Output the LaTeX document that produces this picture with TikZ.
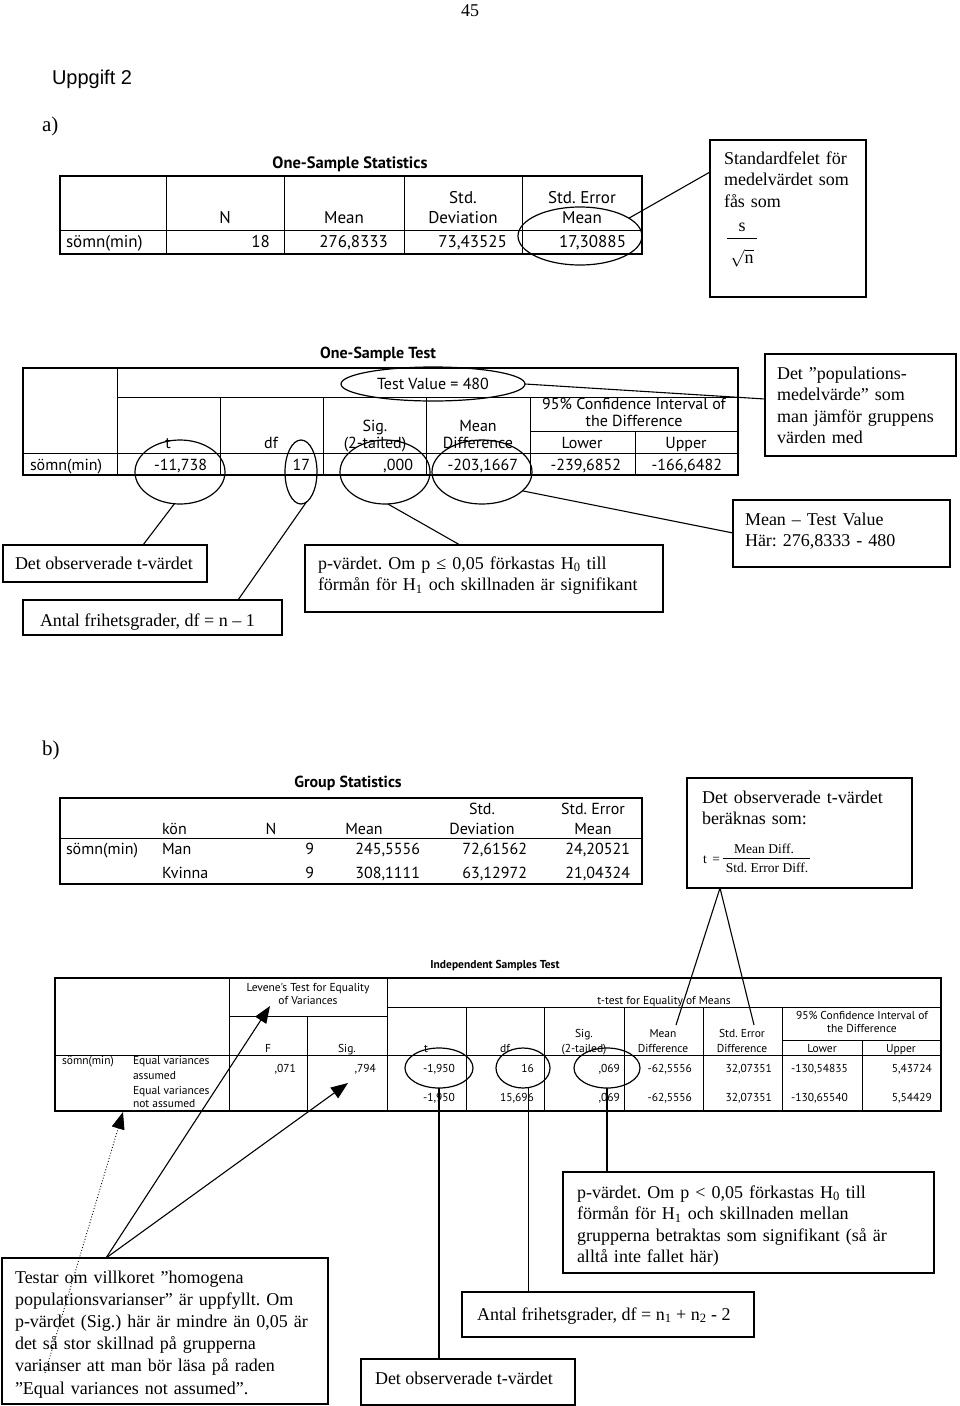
\documentclass[tikz,border=0pt]{standalone}
\usepackage{fontspec}
\setmainfont{Liberation Serif}
\newfontfamily\spssfont{PT Sans}
\newfontfamily\arialfont{Liberation Sans}
\usetikzlibrary{shapes.geometric,arrows.meta,calc}
\frenchspacing
\begin{document}
\begin{tikzpicture}[x=1pt,y=-1pt,
  every node/.style={inner sep=0pt, outer sep=0pt},
  sr/.style={font=\fontsize{18}{21.6}\selectfont, anchor=base west},
  srm/.style={font=\fontsize{18}{21.5}\selectfont, anchor=base west, text width=#1, align=left},
  tA/.style={font=\spssfont\fontsize{17}{20}\selectfont},
  tB/.style={font=\spssfont\fontsize{16}{18}\selectfont},
  tD/.style={font=\spssfont\fontsize{11.5}{13}\selectfont},
  ttl/.style={font=\spssfont\bfseries\fontsize{16.5}{18}\selectfont, anchor=base},
  tbo/.style={line width=1.5pt},
  tbi/.style={line width=1pt},
  cbox/.style={draw, rectangle, line width=1.3pt, anchor=north west},
  el/.style={draw, ellipse, line width=1.2pt, inner sep=0pt},
  conn/.style={line width=1.1pt},
  arr/.style={line width=1.1pt, -{Triangle[length=17pt,width=13pt]}},
  dotarr/.style={line width=0.9pt, dotted, -{Triangle[length=17pt,width=13pt]}},
  C/.style={anchor=base},
  R/.style={anchor=base east},
  L/.style={anchor=base west}]
\useasboundingbox (0,0) rectangle (960,1406);
\fill[white] (0,0) rectangle (960,1406);

% ---------- page head ----------
\node[anchor=base, font=\fontsize{18}{20}\selectfont] (pgnum) at (470,16) {45};
\node[anchor=base west, font=\arialfont\fontsize{20}{22}\selectfont] (uppg) at (52,84) {Uppgift 2};
\node[anchor=base west, font=\fontsize{21}{23}\selectfont] (pa) at (42,131) {a)};
\node[anchor=base west, font=\fontsize{21}{23}\selectfont] (pb) at (42,755) {b)};

% ---------- Table 1: One-Sample Statistics ----------
\node[ttl] (t1title) at (350,168) {One-Sample Statistics};
\draw[tbo] (60,176) rectangle (642,254);
\draw[tbi] (60,230) -- (642,230);
\foreach \xx in {166,284,404,522} \draw[tbi] (\xx,176) -- (\xx,254);
\node[tA,C] (t1h1) at (225,223) {N};
\node[tA,C] (t1h2) at (344,223) {Mean};
\node[tA,C] (t1h3a) at (463,203) {Std.};
\node[tA,C] (t1h3b) at (463,223) {Deviation};
\node[tA,C] (t1h4a) at (582,203) {Std. Error};
\node[tA,C] (t1h4b) at (582,223) {Mean};
\node[tA,L] (t1r) at (66,247) {sömn(min)};
\node[tA,R] (t1d1) at (270,247) {18};
\node[tA,R] (t1d2) at (388,247) {276,8333};
\node[tA,R] (t1d3) at (507,247) {73,43525};
\node[tA,R] (t1d4) at (626,247) {17,30885};
\node[el, minimum width=124pt, minimum height=58pt] (E1) at (580,236) {};

\node[cbox, minimum width=156pt, minimum height=157pt] (B1) at (710,140) {};
\node[srm=140pt] (B1txt) at (724,164) {Standardfelet för\\medelvärdet som\\fås som};
\node[anchor=base, font=\fontsize{18}{20}\selectfont] (B1s) at (742,231) {s};
\draw[line width=0.9pt] (727,238) -- (757,238);
\node[anchor=base, font=\fontsize{18}{20}\selectfont] (B1n) at (742,263) {$\sqrt{\mbox{n}}$};
\draw[conn] (E1.20) -- ($(B1.north west)+(0,32)$);

% ---------- Table 2: One-Sample Test ----------
\node[ttl, font=\spssfont\bfseries\fontsize{16}{18}\selectfont] (t2title) at (378,358) {One-Sample Test};
\draw[tbo] (23,368) rectangle (738,475);
\draw[tbi] (117,368) -- (117,475);
\draw[tbi] (117,397) -- (738,397);
\draw[tbi] (530,431) -- (738,431);
\draw[tbi] (23,453) -- (738,453);
\foreach \xx in {220,323,426,530} \draw[tbi] (\xx,397) -- (\xx,475);
\draw[tbi] (635,431) -- (635,475);
\node[tB,C] (t2tv) at (433,389) {Test Value = 480};
\node[tB,C] (t2ci1) at (634,409) {95\% Confidence Interval of};
\node[tB,C] (t2ci2) at (634,426) {the Difference};
\node[tB,C] (t2h1) at (168,448) {t};
\node[tB,C] (t2h2) at (271,448) {df};
\node[tB,C] (t2h3a) at (375,431) {Sig.};
\node[tB,C] (t2h3b) at (375,448) {(2-tailed)};
\node[tB,C] (t2h4a) at (478,431) {Mean};
\node[tB,C] (t2h4b) at (478,448) {Difference};
\node[tB,C] (t2h5) at (582,448) {Lower};
\node[tB,C] (t2h6) at (686,448) {Upper};
\node[tB,L] (t2r) at (30,470) {sömn(min)};
\node[tB,R] (t2d1) at (207,470) {-11,738};
\node[tB,R] (t2d2) at (310,470) {17};
\node[tB,R] (t2d3) at (413,470) {,000};
\node[tB,R] (t2d4) at (518,470) {-203,1667};
\node[tB,R] (t2d5) at (621,470) {-239,6852};
\node[tB,R] (t2d6) at (722,470) {-166,6482};
\node[el, minimum width=184pt, minimum height=34pt] (Etv) at (433,384) {};
\node[el, minimum width=90pt, minimum height=64pt] (Et) at (180,472) {};
\node[el, minimum width=32pt, minimum height=64pt] (Edf) at (301,472) {};
\node[el, minimum width=90pt, minimum height=64pt] (Esig) at (385,472) {};
\node[el, minimum width=100pt, minimum height=64pt] (Emd) at (482,472) {};

\node[cbox, minimum width=191pt, minimum height=102pt] (Bpop) at (765,354) {};
\node[srm=185pt] (Bpoptxt) at (777,379) {Det ”populations-\\medelvärde" som\\man jämför gruppens\\värden med};
\node[cbox, minimum width=217pt, minimum height=67pt] (Bmean) at (733,500) {};
\node[srm=200pt] (Bmeantxt) at (745,525) {Mean – Test Value\\Här: 276,8333 - 480};
\node[cbox, minimum width=204pt, minimum height=37pt] (Btv) at (3,545) {};
\node[sr] (Btvtxt) at (15,569) {Det observerade t-värdet};
\node[cbox, minimum width=259pt, minimum height=35pt] (Bdf) at (23,600) {};
\node[sr] (Bdftxt) at (40,626) {Antal frihetsgrader, df = n – 1};
\node[cbox, minimum width=358pt, minimum height=67pt] (Bp) at (305,545) {};
\node[srm=350pt] (Bptxt) at (318,569) {p-värdet. Om p ≤ 0,05 förkastas H\textsubscript{0} till\\förmån för H\textsubscript{1} och skillnaden är signifikant};

\draw[conn] (Etv.east) -- ($(Bpop.north west)+(0,45)$);
\draw[conn] (Emd.-25) -- ($(Bmean.north west)+(0,33)$);
\draw[conn] (Et.-100) -- ($(Btv.north west)+(140,0)$);
\draw[conn] (Edf.-80) -- ($(Bdf.north west)+(215,0)$);
\draw[conn] (Esig.-85) -- ($(Bp.north west)+(155,0)$);

% ---------- Table 3: Group Statistics ----------
\node[ttl, font=\spssfont\bfseries\fontsize{16}{18}\selectfont] (t3title) at (348,787) {Group Statistics};
\draw[tbo] (60,798) rectangle (642,884);
\draw[tbi] (60,838) -- (642,838);
\node[tB,L] (t3h0) at (162,834) {kön};
\node[tB,C] (t3h1) at (271,834) {N};
\node[tB,C] (t3h2) at (364,834) {Mean};
\node[tB,C] (t3h3a) at (482,814) {Std.};
\node[tB,C] (t3h3b) at (482,834) {Deviation};
\node[tB,C] (t3h4a) at (593,814) {Std. Error};
\node[tB,C] (t3h4b) at (593,834) {Mean};
\node[tB,L] (t3r) at (66,854) {sömn(min)};
\node[tB,L] (t3g1) at (162,854) {Man};
\node[tB,L] (t3g2) at (162,878) {Kvinna};
\node[tB,R] (t3a1) at (314,854) {9};
\node[tB,R] (t3a2) at (420,854) {245,5556};
\node[tB,R] (t3a3) at (527,854) {72,61562};
\node[tB,R] (t3a4) at (630,854) {24,20521};
\node[tB,R] (t3b1) at (314,878) {9};
\node[tB,R] (t3b2) at (420,878) {308,1111};
\node[tB,R] (t3b3) at (527,878) {63,12972};
\node[tB,R] (t3b4) at (630,878) {21,04324};

\node[cbox, minimum width=225pt, minimum height=110pt] (Bform) at (687,778) {};
\node[srm=210pt] (Bformtxt) at (702,803) {Det observerade t-värdet\\beräknas som:};
\node[anchor=base west, font=\fontsize{13.5}{15}\selectfont] (Bft) at (703,863) {t\,\ =};
\node[anchor=base, font=\fontsize{13.5}{15}\selectfont] (Bfnum) at (764,853) {Mean Diff.};
\draw[line width=0.8pt] (723,858) -- (810,858);
\node[anchor=base, font=\fontsize{13.5}{15}\selectfont] (Bfden) at (767,872) {Std. Error Diff.};

% ---------- Table 4: Independent Samples Test ----------
\node[anchor=base, font=\spssfont\bfseries\fontsize{11.5}{13}\selectfont] (t4title) at (495,968) {Independent Samples Test};
\draw[tbo] (55,978) rectangle (941,1111);
\draw[tbi] (229,978) -- (229,1111);
\draw[tbi] (387,978) -- (387,1111);
\draw[tbi] (229,1016) -- (387,1016);
\draw[tbi] (387,1007) -- (941,1007);
\draw[tbi] (307,1016) -- (307,1111);
\foreach \xx in {466,544,624,703,782} \draw[tbi] (\xx,1007) -- (\xx,1111);
\draw[tbi] (862,1040) -- (862,1111);
\draw[tbi] (782,1040) -- (941,1040);
\draw[tbi] (55,1055) -- (941,1055);
\node[tD,C] (t4lev1) at (308,991) {Levene's Test for Equality};
\node[tD,C] (t4lev2) at (308,1004) {of Variances};
\node[tD,C] (t4tt) at (664,1004) {t-test for Equality of Means};
\node[tD,C] (t4ci1) at (862,1019) {95\% Confidence Interval of};
\node[tD,C] (t4ci2) at (862,1032) {the Difference};
\node[tD,C] (t4hF) at (268,1052) {F};
\node[tD,C] (t4hS) at (347,1052) {Sig.};
\node[tD,C] (t4ht) at (426,1052) {t};
\node[tD,C] (t4hdf) at (505,1052) {df};
\node[tD,C] (t4hs1) at (584,1037) {Sig.};
\node[tD,C] (t4hs2) at (584,1052) {(2-tailed)};
\node[tD,C] (t4hm1) at (663,1037) {Mean};
\node[tD,C] (t4hm2) at (663,1052) {Difference};
\node[tD,C] (t4he1) at (742,1037) {Std. Error};
\node[tD,C] (t4he2) at (742,1052) {Difference};
\node[tD,C] (t4hl) at (822,1052) {Lower};
\node[tD,C] (t4hu) at (901,1052) {Upper};
\node[tD,L] (t4r) at (62,1064) {sömn(min)};
\node[tD,L] (t4l1) at (133,1064) {Equal variances};
\node[tD,L] (t4l2) at (133,1079) {assumed};
\node[tD,L] (t4l3) at (133,1094) {Equal variances};
\node[tD,L] (t4l4) at (133,1107) {not assumed};
\node[tD,R] (t4a1) at (296,1072) {,071};
\node[tD,R] (t4a2) at (376,1072) {,794};
\node[tD,R] (t4a3) at (455,1072) {-1,950};
\node[tD,R] (t4a4) at (534,1072) {16};
\node[tD,R] (t4a5) at (620,1072) {,069};
\node[tD,R] (t4a6) at (692,1072) {-62,5556};
\node[tD,R] (t4a7) at (772,1072) {32,07351};
\node[tD,R] (t4a8) at (848,1072) {-130,54835};
\node[tD,R] (t4a9) at (932,1072) {5,43724};
\node[tD,R] (t4b3) at (455,1101) {-1,950};
\node[tD,R] (t4b4) at (534,1101) {15,696};
\node[tD,R] (t4b5) at (620,1101) {,069};
\node[tD,R] (t4b6) at (692,1101) {-62,5556};
\node[tD,R] (t4b7) at (772,1101) {32,07351};
\node[tD,R] (t4b8) at (848,1101) {-130,65540};
\node[tD,R] (t4b9) at (932,1101) {5,54429};
\node[el, minimum width=68pt, minimum height=40pt] (Et4) at (439,1068) {};
\node[el, minimum width=54pt, minimum height=40pt] (Edf4) at (523,1068) {};
\node[el, minimum width=66pt, minimum height=40pt] (Esig4) at (607,1068) {};

% connectors from formula box down to header cells
\coordinate (mdh) at (676,1025);
\coordinate (seh) at (754,1025);
\draw[conn] ($(Bform.south west)+(33,0)$) -- (mdh);
\draw[conn] ($(Bform.south west)+(33,0)$) -- (seh);

% ---------- lower call-outs ----------
\node[cbox, minimum width=371pt, minimum height=101pt] (Bp2) at (563,1172) {};
\node[srm=365pt] (Bp2txt) at (577,1198) {p-värdet. Om p < 0,05 förkastas H\textsubscript{0} till\\förmån för H\textsubscript{1} och skillnaden mellan\\grupperna betraktas som signifikant (så är\\alltå inte fallet här)};
\node[cbox, minimum width=292pt, minimum height=45pt] (Bdf2) at (462,1292) {};
\node[sr] (Bdf2txt) at (477,1320) {Antal frihetsgrader, df = n\textsubscript{1} + n\textsubscript{2} - 2};
\node[cbox, minimum width=214pt, minimum height=46pt] (Btv2) at (361,1359) {};
\node[sr] (Btv2txt) at (375,1384) {Det observerade t-värdet};
\node[cbox, minimum width=326pt, minimum height=146pt] (Btest) at (2,1258) {};
\node[srm=320pt, font=\fontsize{18}{22.2}\selectfont] (Btesttxt) at (15,1283) {Testar om villkoret ”homogena\\populationsvarianser” är uppfyllt. Om\\p-värdet (Sig.) här är mindre än 0,05 är\\det så stor skillnad på grupperna\\varianser att man bör läsa på raden\\”Equal variances not assumed”.};

\draw[conn] (Et4.south) -- (Et4.south |- Btv2.north);
\draw[conn] (Edf4.-75) -- (Edf4.-75 |- Bdf2.north);
\draw[conn] (Esig4.south) -- (Esig4.south |- Bp2.north);

\coordinate (A0) at ($(Btest.north west)+(104,0)$);
\coordinate (tipLev) at (270,1006);
\coordinate (tipSig) at (348,1083);
\coordinate (tipNA) at (123,1112);
\coordinate (dotS) at (45,1373);
\draw[arr] (A0) -- (tipLev);
\draw[arr] (A0) -- (tipSig);
\draw[dotarr] (dotS) -- (tipNA);
\end{tikzpicture}
\end{document}
